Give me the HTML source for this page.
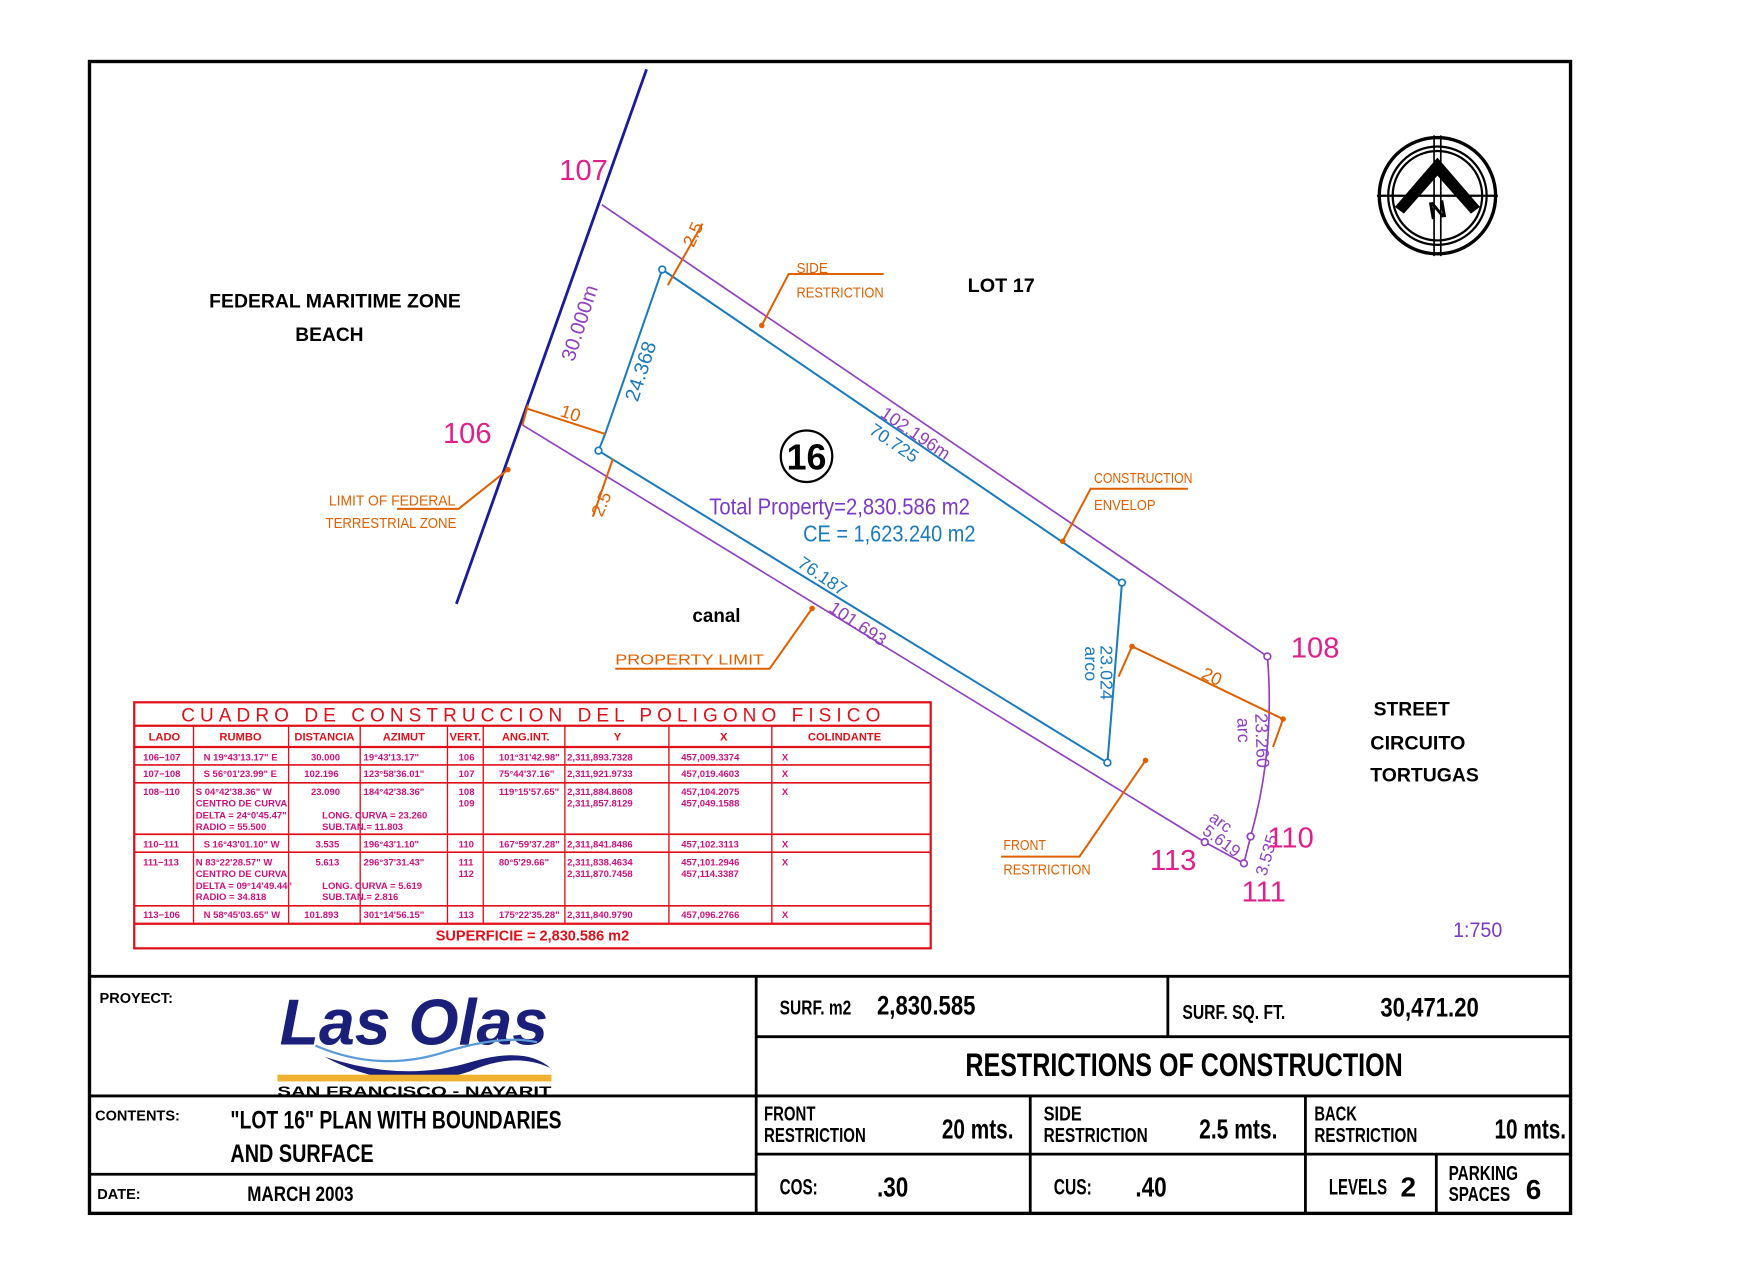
<!DOCTYPE html>
<html><head><meta charset="utf-8"><style>
html,body{margin:0;padding:0;background:#fff;}
svg{display:block;}
text{font-family:"Liberation Sans Narrow","Liberation Sans",sans-serif;}
</style></head><body>
<svg width="1754" height="1276" viewBox="0 0 1568 1141" preserveAspectRatio="none" xmlns="http://www.w3.org/2000/svg">
<rect width="1568" height="1141" fill="#fff"/>
<!-- frame -->
<rect x="80" y="55" width="1324" height="1030" fill="none" stroke="#000" stroke-width="3"/>
<g stroke="#000" stroke-width="2.5" fill="none">
<line x1="80" y1="873" x2="1404" y2="873"/>
<line x1="676" y1="873" x2="676" y2="1085"/>
<line x1="80" y1="980" x2="676" y2="980"/>
<line x1="80" y1="1050" x2="676" y2="1050"/>
<line x1="676" y1="927" x2="1404" y2="927"/>
<line x1="1044" y1="873" x2="1044" y2="927"/>
<line x1="676" y1="980" x2="1404" y2="980"/>
<line x1="676" y1="1032" x2="1404" y2="1032"/>
<line x1="921" y1="980" x2="921" y2="1085"/>
<line x1="1167" y1="980" x2="1167" y2="1085"/>
<line x1="1284" y1="1032" x2="1284" y2="1085"/>
</g>
<!-- title block text -->
<g fill="#000" font-weight="bold">
<text x="89" y="897" font-size="13">PROYECT:</text>
<text x="85" y="1002" font-size="13">CONTENTS:</text>
<text x="87" y="1072" font-size="13">DATE:</text>
<text x="206" y="1009" font-size="22" lengthAdjust="spacingAndGlyphs" textLength="296">"LOT 16" PLAN WITH BOUNDARIES</text>
<text x="206" y="1039" font-size="22" lengthAdjust="spacingAndGlyphs" textLength="128">AND SURFACE</text>
<text x="221" y="1074" font-size="19" lengthAdjust="spacingAndGlyphs" textLength="95">MARCH 2003</text>
<text x="697" y="907" font-size="18" lengthAdjust="spacingAndGlyphs" textLength="64">SURF. m2</text>
<text x="784" y="907" font-size="24" lengthAdjust="spacingAndGlyphs" textLength="88">2,830.585</text>
<text x="1057" y="911" font-size="18" lengthAdjust="spacingAndGlyphs" textLength="92">SURF. SQ. FT.</text>
<text x="1234" y="909" font-size="24" lengthAdjust="spacingAndGlyphs" textLength="88">30,471.20</text>
<text x="863" y="962" font-size="29" lengthAdjust="spacingAndGlyphs" textLength="391">RESTRICTIONS OF CONSTRUCTION</text>
<text x="683" y="1002" font-size="18" lengthAdjust="spacingAndGlyphs" textLength="46">FRONT</text>
<text x="683" y="1021" font-size="18" lengthAdjust="spacingAndGlyphs" textLength="91">RESTRICTION</text>
<text x="842" y="1018" font-size="25" lengthAdjust="spacingAndGlyphs" textLength="64">20 mts.</text>
<text x="933" y="1002" font-size="18" lengthAdjust="spacingAndGlyphs" textLength="34">SIDE</text>
<text x="933" y="1021" font-size="18" lengthAdjust="spacingAndGlyphs" textLength="93">RESTRICTION</text>
<text x="1072" y="1018" font-size="25" lengthAdjust="spacingAndGlyphs" textLength="70">2.5 mts.</text>
<text x="1175" y="1002" font-size="18" lengthAdjust="spacingAndGlyphs" textLength="38">BACK</text>
<text x="1175" y="1021" font-size="18" lengthAdjust="spacingAndGlyphs" textLength="92">RESTRICTION</text>
<text x="1336" y="1018" font-size="25" lengthAdjust="spacingAndGlyphs" textLength="64">10 mts.</text>
<text x="697" y="1068" font-size="20" lengthAdjust="spacingAndGlyphs" textLength="34">COS:</text>
<text x="784" y="1070" font-size="25" lengthAdjust="spacingAndGlyphs" textLength="28">.30</text>
<text x="942" y="1068" font-size="20" lengthAdjust="spacingAndGlyphs" textLength="34">CUS:</text>
<text x="1015" y="1070" font-size="25" lengthAdjust="spacingAndGlyphs" textLength="28">.40</text>
<text x="1188" y="1068" font-size="20" lengthAdjust="spacingAndGlyphs" textLength="52">LEVELS</text>
<text x="1252" y="1070" font-size="25">2</text>
<text x="1295" y="1055" font-size="18" lengthAdjust="spacingAndGlyphs" textLength="62">PARKING</text>
<text x="1295" y="1074" font-size="18" lengthAdjust="spacingAndGlyphs" textLength="55">SPACES</text>
<text x="1364" y="1072" font-size="25">6</text>
</g>
<!-- logo -->
<text x="250" y="934" font-family="Liberation Serif,serif" font-style="italic" font-weight="bold" font-size="58" fill="#1a1f7a" lengthAdjust="spacingAndGlyphs" textLength="240">Las Olas</text>
<path d="M290 945 Q360 968 420 950 Q470 935 492 955 Q460 940 420 958 Q360 978 300 950 Z" fill="#1a1f7a"/>
<path d="M282 935 Q340 960 400 940 Q450 925 480 932" fill="none" stroke="#5a9ad8" stroke-width="2"/>
<rect x="248" y="961" width="245" height="6" fill="#f0b030"/>
<text x="248" y="980" font-family="Liberation Sans,sans-serif" font-weight="bold" font-size="12" fill="#000" lengthAdjust="spacingAndGlyphs" textLength="245">SAN FRANCISCO - NAYARIT</text>

<!-- table -->
<g stroke="#e0101a" stroke-width="2" fill="none">
<rect x="120" y="628" width="712" height="220"/>
<line x1="120" y1="649" x2="832" y2="649"/>
<line x1="120" y1="668" x2="832" y2="668"/>
<line x1="120" y1="826" x2="832" y2="826"/>
</g>
<g stroke="#e0101a" stroke-width="1.5">
<line x1="120" y1="684" x2="832" y2="684"/><line x1="120" y1="700" x2="832" y2="700"/>
<line x1="120" y1="746" x2="832" y2="746"/><line x1="120" y1="762" x2="832" y2="762"/>
<line x1="120" y1="810" x2="832" y2="810"/>
</g>
<g stroke="#e0101a" stroke-width="1.2">
<line x1="173" y1="649" x2="173" y2="826"/><line x1="258" y1="649" x2="258" y2="826"/>
<line x1="322" y1="649" x2="322" y2="826"/><line x1="400" y1="649" x2="400" y2="826"/>
<line x1="432" y1="649" x2="432" y2="826"/><line x1="505" y1="649" x2="505" y2="826"/>
<line x1="598" y1="649" x2="598" y2="826"/><line x1="690" y1="649" x2="690" y2="826"/>
</g>
<text x="162" y="645" font-family="Liberation Sans,sans-serif" font-size="17" fill="#e0101a" textLength="625">CUADRO DE CONSTRUCCION DEL POLIGONO FISICO</text>
<g fill="#e0101a" font-size="10" font-weight="bold" text-anchor="middle">
<text x="147" y="662">LADO</text><text x="215" y="662">RUMBO</text><text x="290" y="662">DISTANCIA</text>
<text x="361" y="662">AZIMUT</text><text x="416" y="662">VERT.</text><text x="470" y="662">ANG.INT.</text>
<text x="552" y="662">Y</text><text x="647" y="662">X</text><text x="755" y="662">COLINDANTE</text>
<text x="476" y="841" font-size="13">SUPERFICIE  =  2,830.586  m2</text>
</g>
<g fill="#d0107a" font-size="8.5" font-weight="bold">
<text x="128" y="680">106−107</text><text x="182" y="680">N 19°43'13.17" E</text><text x="278" y="680">30.000</text><text x="325" y="680">19°43'13.17"</text><text x="410" y="680">106</text><text x="446" y="680">101°31'42.98"</text><text x="507" y="680">2,311,893.7328</text><text x="609" y="680">457,009.3374</text><text x="699" y="680">X</text>
<text x="128" y="695">107−108</text><text x="182" y="695">S 56°01'23.99" E</text><text x="272" y="695">102.196</text><text x="325" y="695">123°58'36.01"</text><text x="410" y="695">107</text><text x="446" y="695">75°44'37.16"</text><text x="507" y="695">2,311,921.9733</text><text x="609" y="695">457,019.4603</text><text x="699" y="695">X</text>
<text x="128" y="711">108−110</text><text x="175" y="711">S 04°42'38.36" W</text><text x="278" y="711">23.090</text><text x="325" y="711">184°42'38.36"</text><text x="410" y="711">108</text><text x="446" y="711">119°15'57.65"</text><text x="507" y="711">2,311,884.8608</text><text x="609" y="711">457,104.2075</text><text x="699" y="711">X</text>
<text x="175" y="721">CENTRO DE CURVA</text><text x="410" y="721">109</text><text x="507" y="721">2,311,857.8129</text><text x="609" y="721">457,049.1588</text>
<text x="175" y="732">DELTA = 24°0'45.47"</text><text x="288" y="732">LONG. CURVA = 23.260</text>
<text x="175" y="742">RADIO = 55.500</text><text x="288" y="742">SUB.TAN.= 11.803</text>
<text x="128" y="758">110−111</text><text x="182" y="758">S 16°43'01.10" W</text><text x="282" y="758">3.535</text><text x="325" y="758">196°43'1.10"</text><text x="410" y="758">110</text><text x="446" y="758">167°59'37.28"</text><text x="507" y="758">2,311,841.8486</text><text x="609" y="758">457,102.3113</text><text x="699" y="758">X</text>
<text x="128" y="774">111−113</text><text x="175" y="774">N 83°22'28.57" W</text><text x="282" y="774">5.613</text><text x="325" y="774">296°37'31.43"</text><text x="410" y="774">111</text><text x="446" y="774">80°5'29.66"</text><text x="507" y="774">2,311,838.4634</text><text x="609" y="774">457,101.2946</text><text x="699" y="774">X</text>
<text x="175" y="784">CENTRO DE CURVA</text><text x="410" y="784">112</text><text x="507" y="784">2,311,870.7458</text><text x="609" y="784">457,114.3387</text>
<text x="175" y="795">DELTA = 09°14'49.44"</text><text x="288" y="795">LONG. CURVA = 5.619</text>
<text x="175" y="805">RADIO = 34.818</text><text x="288" y="805">SUB.TAN.= 2.816</text>
<text x="128" y="821">113−106</text><text x="182" y="821">N 58°45'03.65" W</text><text x="272" y="821">101.893</text><text x="325" y="821">301°14'56.15"</text><text x="410" y="821">113</text><text x="446" y="821">175°22'35.28"</text><text x="507" y="821">2,311,840.9790</text><text x="609" y="821">457,096.2766</text><text x="699" y="821">X</text>
</g>

<!-- north arrow -->
<g transform="translate(1285,175)" stroke="#000" fill="none">
<circle r="52" stroke-width="3"/><circle r="44" stroke-width="2"/><circle r="40" stroke-width="2"/>
<line x1="-54" y1="0" x2="54" y2="0" stroke-width="2"/>
<line x1="-3" y1="-54" x2="-3" y2="54" stroke-width="1.5"/><line x1="3" y1="-54" x2="3" y2="54" stroke-width="1.5"/>
<path d="M-38 10 L0 -34 L38 10 L30 16 L0 -18 L-30 16 Z" fill="#000" stroke="none"/>
<text x="-10" y="20" font-size="22" font-weight="bold" fill="#000" stroke="none" transform="rotate(-10)">N</text>
</g>

<!-- drawing lines -->
<line x1="578" y1="62" x2="408" y2="540" stroke="#1a1aa0" stroke-width="2.5"/>
<g stroke="#9040c0" stroke-width="1.5" fill="none">
<path d="M538 183 L1133 587 Q1140 670 1118 748 L1112 772 L1077 753 L467 380"/>
</g>
<g stroke="#1a7ac0" stroke-width="1.8" fill="none">
<path d="M592 241 L1003 521 L990 682 L535 403 L541 388 Z"/>
</g>
<g fill="#fff" stroke="#1a7ac0" stroke-width="1.5">
<circle cx="592" cy="241" r="3"/><circle cx="1003" cy="521" r="3"/><circle cx="990" cy="682" r="3"/><circle cx="535" cy="403" r="3"/>
</g>
<g fill="#fff" stroke="#9040c0" stroke-width="1.5">
<circle cx="1133" cy="587" r="3"/><circle cx="1118" cy="748" r="3"/><circle cx="1112" cy="772" r="3"/><circle cx="1077" cy="753" r="3"/>
</g>
<!-- orange -->
<g stroke="#e06000" stroke-width="1.8" fill="none">
<line x1="597" y1="255" x2="628" y2="200"/>
<line x1="470" y1="365" x2="541" y2="388"/>
<line x1="467" y1="380" x2="472" y2="362"/>
<line x1="548" y1="410" x2="530" y2="462"/>
<line x1="1012" y1="578" x2="1147" y2="643"/>
<line x1="1012" y1="578" x2="1000" y2="605"/>
<line x1="1147" y1="643" x2="1138" y2="668"/>
<polyline points="681,291 705,245 790,245"/>
<polyline points="950,484 975,437 1062,437"/>
<polyline points="726,544 688,598 550,598"/>
<polyline points="1024,680 965,766 895,766"/>
<polyline points="454,420 410,455 355,455"/>
</g>
<g fill="#e06000"><circle cx="681" cy="291" r="2.5"/><circle cx="950" cy="484" r="2.5"/><circle cx="726" cy="544" r="2.5"/><circle cx="1024" cy="680" r="2.5"/><circle cx="454" cy="420" r="2.5"/><circle cx="1012" cy="578" r="2.5"/><circle cx="1147" cy="643" r="2.5"/></g>
<g fill="#e06000" font-family="Liberation Mono,monospace" font-size="13">
<text x="712" y="244" lengthAdjust="spacingAndGlyphs" textLength="28">SIDE</text><text x="712" y="266" lengthAdjust="spacingAndGlyphs" textLength="78">RESTRICTION</text>
<text x="978" y="432" lengthAdjust="spacingAndGlyphs" textLength="88">CONSTRUCTION</text><text x="978" y="456" lengthAdjust="spacingAndGlyphs" textLength="55">ENVELOP</text>
<text x="550" y="594" lengthAdjust="spacingAndGlyphs" textLength="133">PROPERTY LIMIT</text>
<text x="897" y="760" lengthAdjust="spacingAndGlyphs" textLength="38">FRONT</text><text x="897" y="782" lengthAdjust="spacingAndGlyphs" textLength="78">RESTRICTION</text>
<text x="294" y="452" lengthAdjust="spacingAndGlyphs" textLength="113">LIMIT OF FEDERAL</text><text x="291" y="472" lengthAdjust="spacingAndGlyphs" textLength="117">TERRESTRIAL ZONE</text>
<text x="0" y="0" font-size="16" transform="translate(620,222) rotate(-66)">2.5</text>
<text x="0" y="0" font-size="16" transform="translate(538,463) rotate(-66)">2.5</text>
<text x="0" y="0" font-size="16" transform="translate(500,372) rotate(18)">10</text>
<text x="0" y="0" font-size="16" transform="translate(1073,606) rotate(26)">20</text>
</g>
<!-- dimension labels -->
<g font-family="Liberation Sans,sans-serif" font-size="18">
<text fill="#9040c0" transform="translate(513,324) rotate(-72)">30.000m</text>
<text fill="#1a7ac0" transform="translate(570,360) rotate(-72)">24.368</text>
<text fill="#9040c0" font-size="16" transform="translate(786,372) rotate(34)">102.196m</text>
<text fill="#1a7ac0" font-size="16" transform="translate(776,387) rotate(34)">70.725</text>
<text fill="#1a7ac0" font-size="16" transform="translate(712,506) rotate(34)">76.187</text>
<text fill="#9040c0" font-size="16" transform="translate(740,546) rotate(34)">101.693</text>
<text fill="#1a7ac0" font-size="16" transform="translate(984,577) rotate(90)">23.024</text>
<text fill="#1a7ac0" font-size="16" transform="translate(970,578) rotate(90)">arco</text>
<text fill="#9040c0" font-size="16" transform="translate(1122,638) rotate(88)">23.260</text>
<text fill="#9040c0" font-size="16" transform="translate(1106,642) rotate(88)">arc</text>
<text fill="#9040c0" font-size="15" transform="translate(1074,745) rotate(36)">5.619</text>
<text fill="#9040c0" font-size="15" transform="translate(1080,733) rotate(36)">arc</text>
<text fill="#9040c0" font-size="15" transform="translate(1132,784) rotate(-74)">3.535</text>
</g>
<g fill="#e0208a" font-family="Liberation Sans,sans-serif" font-size="26">
<text x="500" y="161">107</text><text x="396" y="396">106</text><text x="1154" y="588">108</text>
<text x="1133" y="758">110</text><text x="1028" y="778">113</text><text x="1110" y="806">111</text>
</g>
<g fill="#000" font-weight="bold">
<text x="187" y="275" font-size="17" lengthAdjust="spacingAndGlyphs" textLength="225">FEDERAL MARITIME ZONE</text>
<text x="264" y="305" font-size="17" lengthAdjust="spacingAndGlyphs" textLength="61">BEACH</text>
<text x="865" y="261" font-size="17" lengthAdjust="spacingAndGlyphs" textLength="60">LOT 17</text>
<text x="619" y="556" font-size="17" lengthAdjust="spacingAndGlyphs" textLength="43">canal</text>
<text x="1228" y="640" font-size="17" lengthAdjust="spacingAndGlyphs" textLength="68">STREET</text>
<text x="1225" y="670" font-size="17" lengthAdjust="spacingAndGlyphs" textLength="85">CIRCUITO</text>
<text x="1225" y="699" font-size="17" lengthAdjust="spacingAndGlyphs" textLength="97">TORTUGAS</text>
</g>
<circle cx="721" cy="408" r="23" fill="none" stroke="#000" stroke-width="2"/>
<text x="721" y="420" font-size="32" font-weight="bold" text-anchor="middle" fill="#000">16</text>
<text x="634" y="460" font-size="21" fill="#7a3ac8" lengthAdjust="spacingAndGlyphs" textLength="233">Total Property=2,830.586 m2</text>
<text x="718" y="484" font-size="21" fill="#1a7ac0" lengthAdjust="spacingAndGlyphs" textLength="154">CE = 1,623.240 m2</text>
<text x="1299" y="838" font-size="19" fill="#7a3ac8" lengthAdjust="spacingAndGlyphs" textLength="44">1:750</text>
</svg>
</body></html>
